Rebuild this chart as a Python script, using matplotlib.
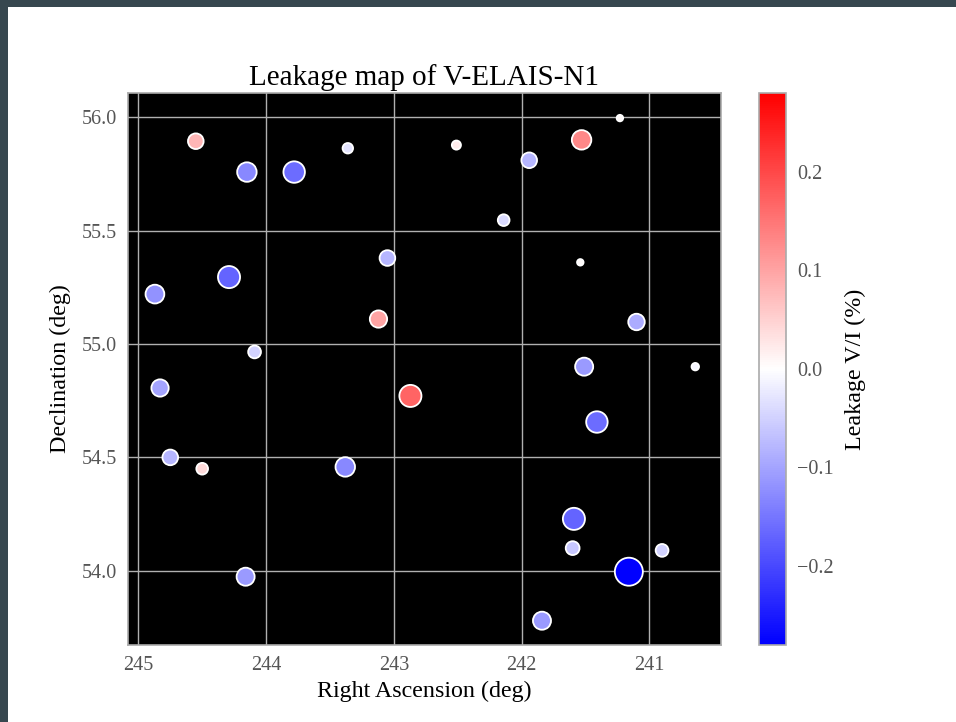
import numpy as np
import matplotlib
matplotlib.use("Agg")
import matplotlib.pyplot as plt
from matplotlib.patches import Rectangle

# Source positions (deg) and V/I leakage (%)
ra = [244.55, 244.15, 243.78, 243.36, 242.51, 241.94, 241.53, 241.23,
      242.14, 243.05, 244.29, 244.87, 243.12, 244.09, 241.54, 241.10,
      241.51, 240.64, 244.83, 242.87, 241.41, 244.75, 244.50, 243.38,
      241.59, 241.60, 240.90, 241.16, 244.16, 241.84]
dec = [55.894, 55.758, 55.758, 55.863, 55.877, 55.810, 55.900, 55.996,
       55.546, 55.379, 55.295, 55.220, 55.110, 54.965, 55.360, 55.097,
       54.900, 54.900, 54.806, 54.771, 54.656, 54.500, 54.450, 54.458,
       54.229, 54.100, 54.090, 53.996, 53.974, 53.780]
leak = [0.08, -0.13, -0.16, -0.03, 0.02, -0.08, 0.13, 0.005,
        -0.04, -0.08, -0.17, -0.12, 0.10, -0.05, 0.005, -0.09,
        -0.11, -0.01, -0.10, 0.17, -0.16, -0.08, 0.04, -0.13,
        -0.17, -0.06, -0.05, -0.28, -0.11, -0.11]

cbar_ticks = [-0.2, -0.1, 0.0, 0.1, 0.2]

plt.rcParams["font.family"] = ["Liberation Serif", "DejaVu Serif"]

fig = plt.figure(figsize=(9.56, 7.22), dpi=100, facecolor="#37474f")
# white page inside the dark frame
fig.patches.append(Rectangle((8 / 956, 0), 1, 1 - 7 / 722, transform=fig.transFigure,
                             facecolor="white", edgecolor="none", zorder=-10))

ax = fig.add_axes([0.134, 0.107, 0.620, 0.764])
cax = fig.add_axes([0.794, 0.107, 0.028, 0.764])

ax.set_facecolor("black")
ax.grid(True, color="#b0b0b0", lw=1.0, zorder=0)
ax.set_axisbelow(True)

sizes = 1400 * np.abs(np.array(leak)) + 15
sc = ax.scatter(ra, dec, c=leak, s=sizes, cmap="bwr", vmin=-0.28, vmax=0.28,
                edgecolors="white", linewidths=1.3, zorder=3)

ax.set_xlim(245.08, 240.44)
ax.set_ylim(53.674, 56.106)
ax.set_xticks([245, 244, 243, 242, 241])
ax.set_xticklabels(["245", "244", "243", "242", "241"])
ax.set_yticks([54.0, 54.5, 55.0, 55.5, 56.0])
ax.tick_params(length=0, labelsize=14.5, labelcolor="#555555", pad=8)
for sp in ax.spines.values():
    sp.set_color("#aaaaaa")
    sp.set_linewidth(1.2)

ax.set_title("Leakage map of V-ELAIS-N1", fontsize=21, pad=6)
ax.set_xlabel("Right Ascension (deg)", fontsize=17.3, labelpad=4)
ax.set_ylabel("Declination (deg)", fontsize=17.3, labelpad=8)

cb = fig.colorbar(sc, cax=cax)
cb.set_ticks(cbar_ticks)
cb.set_ticklabels([f"\u2212{abs(t):.1f}" if t < 0 else f"{t:.1f}" for t in cbar_ticks])
cb.outline.set_edgecolor("#aaaaaa")
cb.outline.set_linewidth(1.2)
cax.tick_params(length=0, labelsize=14.5, labelcolor="#555555", pad=8)
cb.set_label("Leakage V/I (%)", fontsize=17.3, labelpad=8)

fig.savefig("out.png", dpi=100, facecolor=fig.get_facecolor())
